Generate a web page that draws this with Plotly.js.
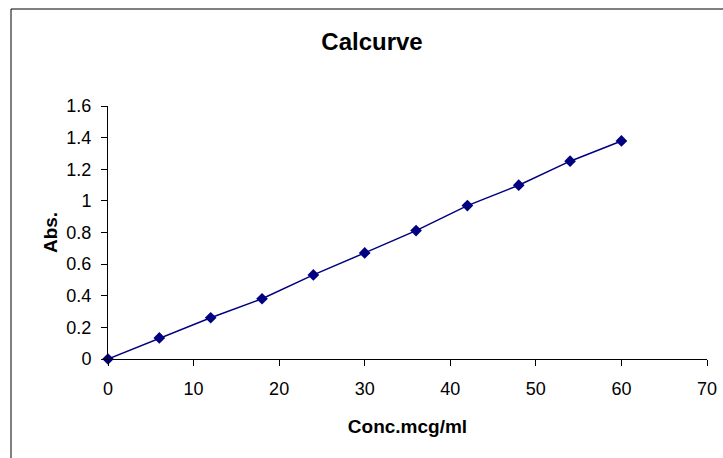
<!DOCTYPE html>
<html>
<head>
<meta charset="utf-8">
<script src="https://cdn.plot.ly/plotly-3.0.1.min.js"></script>
<style>
html,body{margin:0;padding:0;background:#fff;}
#chart{width:723px;height:458px;}
</style>
</head>
<body>
<div id="chart"></div>
<script>
const concentration = [0, 6, 12, 18, 24, 30, 36, 42, 48, 54, 60];
const absorbance = [0, 0.133, 0.261, 0.381, 0.532, 0.671, 0.812, 0.970, 1.099, 1.251, 1.379];
const xTicks = [0, 10, 20, 30, 40, 50, 60, 70];
const yTicks = [0, 0.2, 0.4, 0.6, 0.8, 1, 1.2, 1.4, 1.6];

const FONT = '"Liberation Sans", Arial, sans-serif';

const trace = {
  x: concentration,
  y: absorbance,
  type: 'scatter',
  mode: 'lines+markers',
  line: {color: '#000080', width: 1.5},
  marker: {symbol: 'diamond', size: 9, color: '#000080'},
  cliponaxis: false,
  hoverinfo: 'x+y'
};

const layout = {
  width: 723,
  height: 458,
  margin: {l: 108, r: 16, t: 106, b: 99},
  paper_bgcolor: '#ffffff',
  plot_bgcolor: '#ffffff',
  showlegend: false,
  font: {family: FONT, color: '#000000', size: 18},
  title: {
    text: '<b>Calcurve</b>',
    font: {family: FONT, size: 24, color: '#000000'},
    xref: 'container', x: 372 / 723, xanchor: 'center',
    yref: 'container', y: 1 - 42 / 458, yanchor: 'middle'
  },
  xaxis: {
    range: [0, 70],
    tickvals: xTicks,
    ticktext: xTicks.map(String),
    showgrid: false,
    zeroline: false,
    showline: true,
    linecolor: '#000000',
    linewidth: 1,
    ticks: 'outside',
    ticklen: 6,
    tickwidth: 1,
    tickcolor: '#000000',
    ticklabelstandoff: 7,
    tickfont: {family: FONT, size: 18, color: '#000000'},
    title: {text: '<b>Conc.mcg/ml</b>', font: {family: FONT, size: 19, color: '#000000'}, standoff: 22}
  },
  yaxis: {
    range: [0, 1.6],
    tickvals: yTicks,
    ticktext: yTicks.map(String),
    showgrid: false,
    zeroline: false,
    showline: true,
    linecolor: '#000000',
    linewidth: 1,
    ticks: 'outside',
    ticklen: 6,
    tickwidth: 1,
    tickcolor: '#000000',
    ticklabelstandoff: 6,
    tickfont: {family: FONT, size: 18, color: '#000000'},
    title: {text: '<b>Abs.</b>', font: {family: FONT, size: 19, color: '#000000'}, standoff: 3}
  },
  shapes: [{
    type: 'rect',
    xref: 'paper', yref: 'paper',
    x0: (11 - 108) / 599, x1: (740 - 108) / 599,
    y0: (359 - 480) / 253, y1: (359 - 9) / 253,
    line: {color: '#000000', width: 1},
    fillcolor: 'rgba(0,0,0,0)',
    layer: 'below'
  }]
};

Plotly.newPlot('chart', [trace], layout, {displayModeBar: false, staticPlot: true});
</script>
</body>
</html>
